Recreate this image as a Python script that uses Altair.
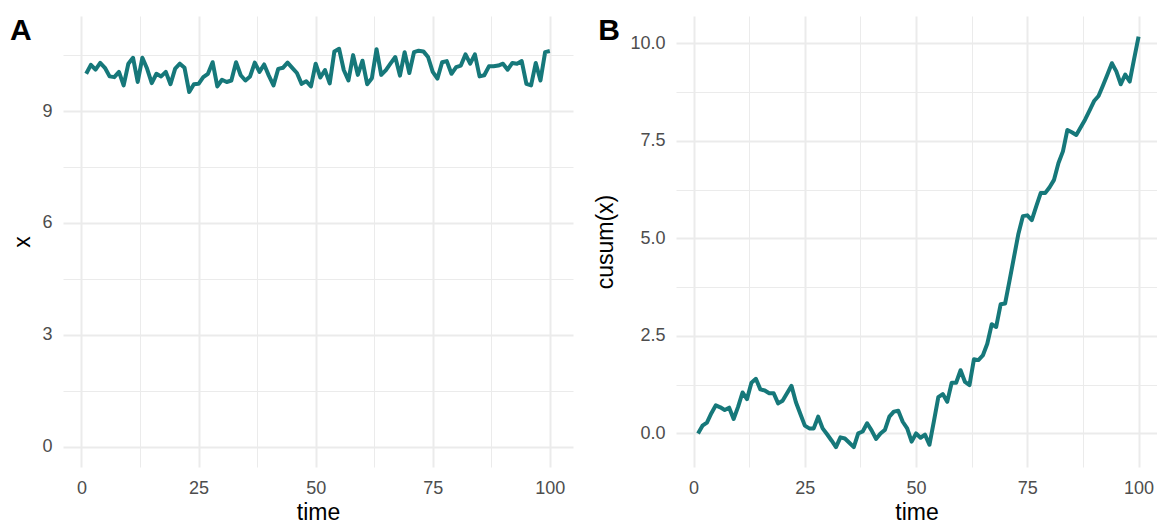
import altair as alt
import pandas as pd

# ---------------- data ----------------
time = list(range(1, 101))

x_series = [
    10.00, 10.24, 10.11, 10.29, 10.16, 9.93, 9.91, 10.05, 9.69, 10.27,
    10.43, 9.78, 10.43, 10.14, 9.75, 10.00, 9.93, 10.05, 9.72, 10.14,
    10.27, 10.16, 9.51, 9.72, 9.73, 9.91, 10.00, 10.31, 9.66, 9.84,
    9.78, 9.82, 10.31, 9.96, 9.82, 9.93, 10.30, 10.05, 10.25, 9.95,
    9.69, 10.13, 10.16, 10.30, 10.16, 10.02, 9.73, 9.80, 9.66, 10.27,
    9.90, 10.10, 9.74, 10.60, 10.67, 10.10, 9.82, 10.50, 9.97, 10.35,
    9.72, 9.88, 10.66, 9.97, 10.10, 10.28, 10.45, 9.95, 10.58, 10.02,
    10.58, 10.62, 10.60, 10.45, 10.05, 9.87, 10.31, 10.34, 10.00, 10.18,
    10.22, 10.52, 10.27, 10.52, 9.93, 9.96, 10.20, 10.20, 10.22, 10.27,
    10.11, 10.29, 10.27, 10.34, 9.73, 9.69, 10.29, 9.82, 10.58, 10.61,
]

cusum_series = [
    0.00, 0.20, 0.28, 0.52, 0.72, 0.67, 0.60, 0.66, 0.37, 0.68,
    1.05, 0.88, 1.30, 1.40, 1.13, 1.10, 1.03, 1.03, 0.77, 0.84,
    1.03, 1.22, 0.80, 0.50, 0.20, 0.13, 0.13, 0.43, 0.13, -0.02,
    -0.18, -0.35, -0.10, -0.13, -0.24, -0.35, 0.00, 0.05, 0.26, 0.08,
    -0.14, 0.00, 0.09, 0.43, 0.56, 0.58, 0.30, 0.13, -0.21, 0.00,
    -0.11, -0.03, -0.29, 0.31, 0.93, 1.01, 0.81, 1.30, 1.30, 1.62,
    1.32, 1.24, 1.90, 1.88, 2.00, 2.30, 2.80, 2.73, 3.31, 3.33,
    3.92, 4.52, 5.12, 5.57, 5.59, 5.47, 5.82, 6.16, 6.16, 6.31,
    6.50, 6.93, 7.23, 7.78, 7.72, 7.65, 7.85, 8.05, 8.28, 8.52,
    8.65, 8.92, 9.20, 9.49, 9.28, 8.95, 9.20, 9.02, 9.60, 10.17,
]

x_major = [0, 25, 50, 75, 100]
x_minor = [12.5, 37.5, 62.5, 87.5]
a_major = [0, 3, 6, 9]
a_minor = [1.5, 4.5, 7.5, 10.5]
b_major = [0, 2.5, 5, 7.5, 10]
b_minor = [1.25, 3.75, 6.25, 8.75]

df = pd.DataFrame({"time": time, "x": x_series, "cusum": cusum_series})

FONT = "Liberation Sans"
LINE = "#16787A"
GRID = "#EBEBEB"
PANEL_H = 451


def panel(ycol, ytitle, y_domain, y_major, y_minor, y_fmt, x_domain, width,
          tag, tag_dx, title_x):
    xs = alt.Scale(domain=x_domain, nice=False, zero=False)
    ys = alt.Scale(domain=y_domain, nice=False, zero=False)
    base = alt.Chart(df)
    minor = base.mark_line(opacity=0).encode(
        x=alt.X("time:Q", scale=xs,
                axis=alt.Axis(orient="top", values=x_minor, grid=True,
                              gridColor=GRID, gridWidth=1.0, labels=False,
                              ticks=False, domain=False, title=None)),
        y=alt.Y(f"{ycol}:Q", scale=ys,
                axis=alt.Axis(orient="right", values=y_minor, grid=True,
                              gridColor=GRID, gridWidth=1.0, labels=False,
                              ticks=False, domain=False, title=None)),
    )
    main = base.mark_line(color=LINE, strokeWidth=4.0, strokeJoin="round",
                          clip=True).encode(
        x=alt.X("time:Q", scale=xs,
                axis=alt.Axis(orient="bottom", values=x_major, grid=True,
                              gridColor=GRID, gridWidth=2.0, ticks=False,
                              domain=False, labelPadding=12, labelFontSize=18,
                              labelColor="#4D4D4D", format="d",
                              title="time", titleFontSize=23,
                              titleFontWeight="normal", titleColor="#000000",
                              titleBaseline="alphabetic", titleY=52)),
        y=alt.Y(f"{ycol}:Q", scale=ys,
                axis=alt.Axis(orient="left", values=y_major, grid=True,
                              gridColor=GRID, gridWidth=2.0, ticks=False,
                              domain=False, labelPadding=11, labelFontSize=18,
                              labelColor="#4D4D4D", format=y_fmt,
                              title=ytitle, titleFontSize=23,
                              titleFontWeight="normal", titleColor="#000000",
                              titleAngle=270, titleBaseline="alphabetic",
                              titleAlign="center", titleX=title_x,
                              titleY=PANEL_H / 2)),
    )
    label = alt.Chart(pd.DataFrame({"tag": [tag]})).mark_text(
        align="left", baseline="top", fontSize=30, fontWeight="bold",
        font=FONT, color="#000000",
    ).encode(text="tag:N", x=alt.value(tag_dx), y=alt.value(0))
    return alt.layer(minor, main, label).resolve_axis(
        x="independent", y="independent"
    ).properties(width=width, height=PANEL_H)


panel_a = panel("x", "x", [-0.55, 11.55], a_major, a_minor, "d",
                [-3.95, 104.95], 510, "A", -53, -33.7)
panel_b = panel("cusum", "cusum(x)", [-0.86, 10.70], b_major, b_minor, ".1f",
                [-3.95, 104.14], 481, "B", -77.7, -63.2)

chart = alt.hconcat(panel_a, panel_b, spacing=21).properties(
    padding={"left": 10, "top": 16, "right": 0, "bottom": 0}
).configure(font=FONT).configure_view(strokeWidth=0).configure_axis(
    labelFont=FONT, titleFont=FONT
)

chart.save("out.html", embed_options={"renderer": "svg", "actions": False})
